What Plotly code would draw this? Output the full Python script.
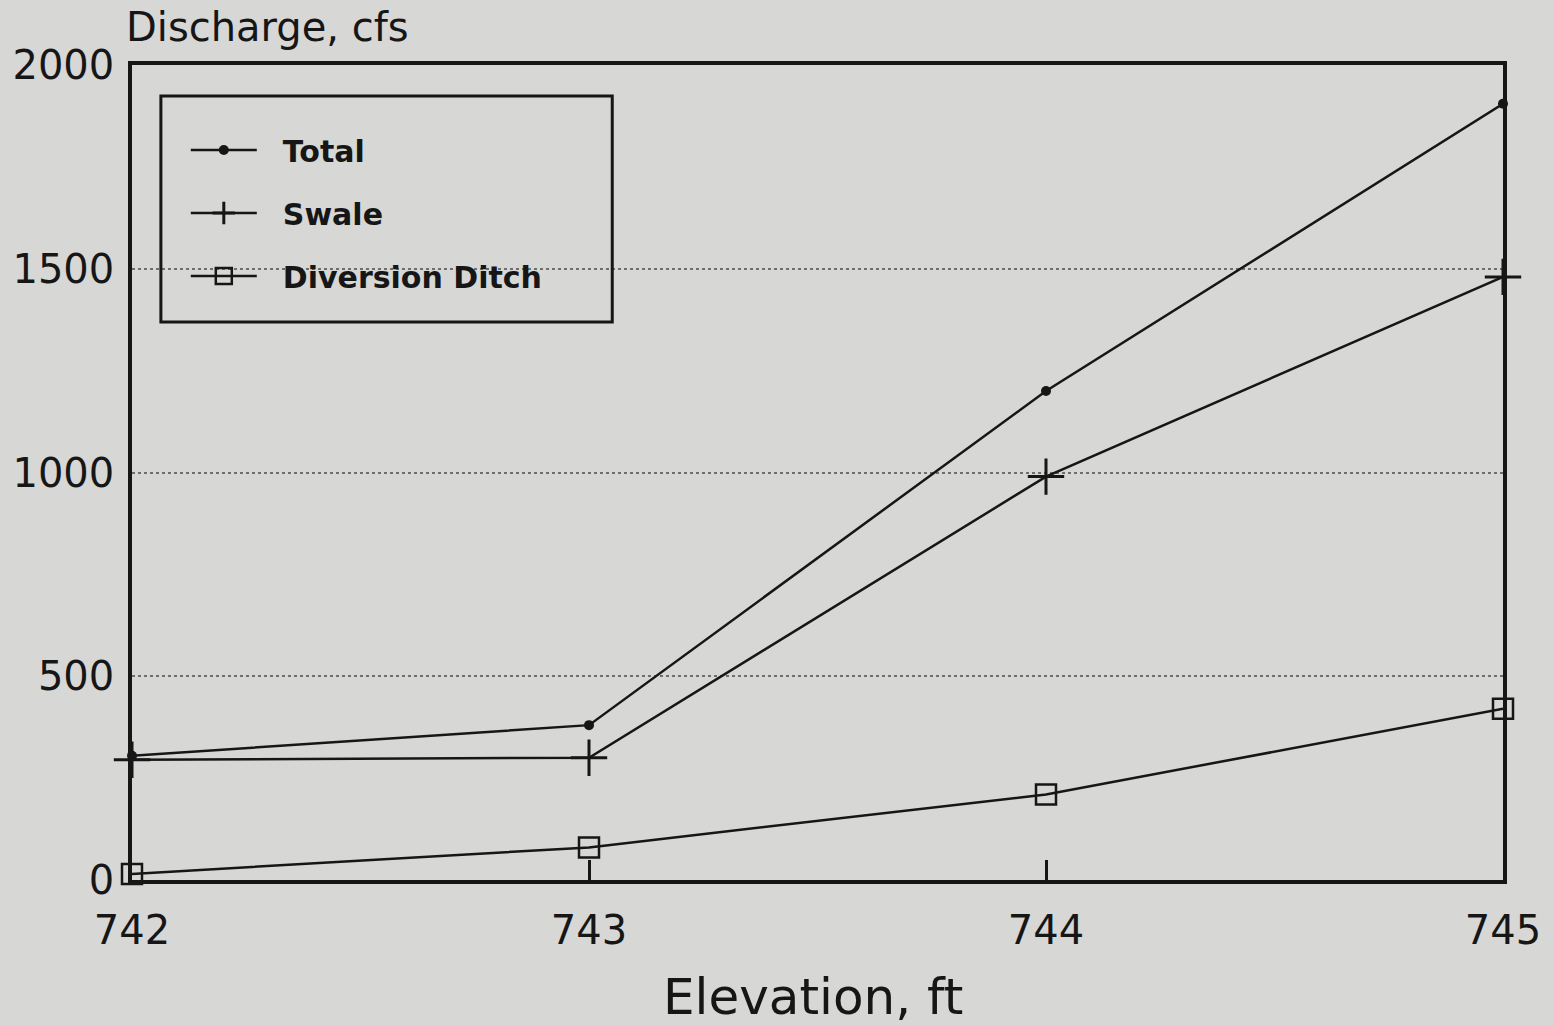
import plotly.graph_objects as go

# Discharge vs. water-surface elevation
elevation_ft = [742, 743, 744, 745]
total_cfs = [305, 380, 1200, 1905]
swale_cfs = [295, 300, 990, 1480]
diversion_ditch_cfs = [15, 80, 210, 420]

series_names = ["Total", "Swale", "Diversion Ditch"]

x_ticks = [742, 743, 744, 745]
y_ticks = [0, 500, 1000, 1500, 2000]

INK = "#161616"
PAPER = "#d7d7d5"
GAP = "\u2002\u2009"  # spacing between legend sample and its label

fig = go.Figure()

fig.add_trace(go.Scatter(
    x=elevation_ft, y=total_cfs, name=GAP + series_names[0], mode="lines+markers",
    line=dict(color=INK, width=2.5),
    marker=dict(symbol="circle", size=10, color=INK),
    legendgroup="a", cliponaxis=False,
))
fig.add_trace(go.Scatter(
    x=elevation_ft, y=swale_cfs, name=GAP + series_names[1], mode="lines+markers",
    line=dict(color=INK, width=2.5),
    marker=dict(symbol="cross-thin", size=26, line=dict(color=INK, width=3)),
    legendgroup="b", cliponaxis=False,
))
fig.add_trace(go.Scatter(
    x=elevation_ft, y=diversion_ditch_cfs, name=GAP + series_names[2], mode="lines+markers",
    line=dict(color=INK, width=2.5),
    marker=dict(symbol="square-open", size=20, line=dict(color=INK, width=2.5)),
    legendgroup="c", cliponaxis=False,
))

# legend frame
fig.add_shape(type="rect", xref="paper", yref="paper",
              x0=(160 - 131) / 1376, x1=(613 - 131) / 1376,
              y0=(880 - 322) / 815, y1=(880 - 96) / 815,
              line=dict(color=INK, width=3), fillcolor="rgba(0,0,0,0)", layer="above")

fig.add_annotation(text="Discharge, cfs", xref="paper", yref="paper",
                   x=-0.006, y=1.047, xanchor="left", yanchor="middle",
                   showarrow=False, font=dict(family="DejaVu Sans", size=40, color=INK))
fig.add_annotation(text="Elevation, ft", xref="paper", yref="paper",
                   x=0.497, y=-0.144, xanchor="center", yanchor="middle",
                   showarrow=False, font=dict(family="DejaVu Sans", size=50, color=INK))

fig.update_layout(
    width=1553, height=1025,
    margin=dict(l=131, r=46, t=65, b=145),
    paper_bgcolor=PAPER, plot_bgcolor=PAPER,
    font=dict(family="DejaVu Sans", color=INK),
    showlegend=True,
    legend=dict(
        x=(185 - 131) / 1376, y=(880 - 124) / 815, xanchor="left", yanchor="top",
        bgcolor="rgba(0,0,0,0)", borderwidth=0,
        font=dict(family="DejaVu Sans", size=30, color=INK, weight="bold"),
        tracegroupgap=21, itemwidth=66,
    ),
    xaxis=dict(
        range=[742, 745], tickvals=x_ticks, ticktext=[str(v) for v in x_ticks],
        showgrid=False, zeroline=False,
        showline=True, mirror=True, linecolor=INK, linewidth=3.5,
        ticks="inside", ticklen=20, tickwidth=3, tickcolor=INK,
        tickfont=dict(family="DejaVu Sans", size=40, color=INK),
        ticklabelstandoff=12,
    ),
    yaxis=dict(
        range=[0, 2000], tickvals=y_ticks, ticktext=[str(v) for v in y_ticks],
        showgrid=True, gridcolor="#6e6e6e", gridwidth=1.5, griddash="dot",
        zeroline=False,
        showline=True, mirror=True, linecolor=INK, linewidth=3.5,
        ticks="", tickfont=dict(family="DejaVu Sans", size=40, color=INK),
        ticklabelstandoff=6,
    ),
)

fig.write_html("out.html")
